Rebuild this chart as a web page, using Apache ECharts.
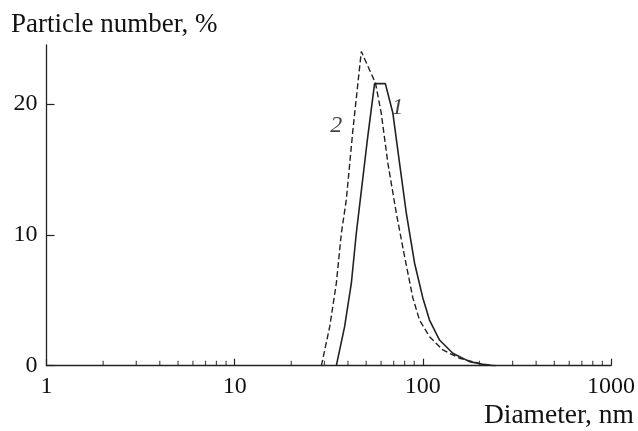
<!DOCTYPE html>
<html><head><meta charset="utf-8">
<script src="https://cdn.jsdelivr.net/npm/echarts@6/dist/echarts.min.js"></script>
<style>html,body{margin:0;padding:0;background:#fff}#c{width:638px;height:431px}</style>
</head><body><div id="c"></div>
<script>
// Curve 1 (solid): [diameter nm, particle number %]
const curve1 = [
  [34.7,0],[38.4,2.98],[41.7,6.30],[44.3,10.12],[46.5,12.67],[50.6,17.13],[55.4,21.55],
  [63.2,21.55],[69.3,19.30],[75.2,15.47],[81.7,11.65],[90.4,7.83],[100,5.18],[108.5,3.49],
  [122.7,1.96],[144.3,0.95],[177,0.31],[217,0.05],[245,0]
];
// Curve 2 (dashed)
const curve2 = [
  [28.9,0],[32.0,2.98],[34.7,6.30],[36.9,10.12],[39.2,12.67],[42.5,18.02],[47.1,24.0],
  [56.0,21.6],[60.1,19.30],[65.2,15.47],[72.3,11.65],[80.0,8.33],[88.5,5.18],[96.0,3.49],
  [108.5,2.22],[127.7,1.20],[156.6,0.57],[200,0.18],[235,0]
];
const curveLabels = [
  {name:'1', value:[73.4,19.7]},
  {name:'2', value:[34.7,18.3]}
];
const minorTicks = [2,3,4,5,6,7,8,9,20,30,40,50,60,70,80,90,200,300,400,500,600,700,800,900];
const yTicks = [0,10,20];
const xName = 'Diameter, nm';
const yName = 'Particle number, %';

const font = 'Liberation Serif';
const ink = '#222';
const chart = echarts.init(document.getElementById('c'), null, {renderer:'canvas'});
chart.setOption({
  animation:false,
  backgroundColor:'#fff',
  grid:{left:46.5, right:26.3, top:45, bottom:65.3, containLabel:false},
  xAxis:{
    type:'log', logBase:10, min:1, max:1000,
    axisLine:{lineStyle:{color:ink,width:1.3}},
    axisTick:{inside:true,length:7,lineStyle:{color:ink,width:1.2}},
    axisLabel:{color:'#111',fontFamily:font,fontSize:24,margin:9,formatter:v=>String(Math.round(v))},
    splitLine:{show:false}, minorTick:{show:false}
  },
  yAxis:{
    type:'value', min:0, max:24.5, interval:10,
    axisLine:{show:true,lineStyle:{color:ink,width:1.3}},
    axisTick:{show:true,inside:true,length:8,lineStyle:{color:ink,width:1.2},customValues:yTicks},
    axisLabel:{color:'#111',fontFamily:font,fontSize:24,margin:9,customValues:yTicks},
    splitLine:{show:false}
  },
  graphic:[
    {type:'text',left:11,top:11,style:{text:yName,font:'27px "Liberation Serif"',fill:'#111'}},
    {type:'text',right:4,top:402,style:{text:xName,font:'27.5px "Liberation Serif"',fill:'#111'}}
  ],
  series:[
    {type:'line',data:curve1,showSymbol:false,smooth:false,
     lineStyle:{color:ink,width:1.6,type:'solid'}},
    {type:'line',data:curve2,showSymbol:false,smooth:false,
     lineStyle:{color:ink,width:1.4,type:[6,3]}},
    {type:'scatter',data:minorTicks.map(v=>[v,0]),symbol:'rect',symbolSize:[1.2,5],
     symbolOffset:[0,-2.5],itemStyle:{color:ink},silent:true,clip:false},
    {type:'scatter',data:curveLabels,symbolSize:0,silent:true,
     label:{show:true,position:'inside',formatter:p=>p.name,fontFamily:font,fontStyle:'italic',fontSize:24,color:'#111'}}
  ]
});
</script></body></html>
